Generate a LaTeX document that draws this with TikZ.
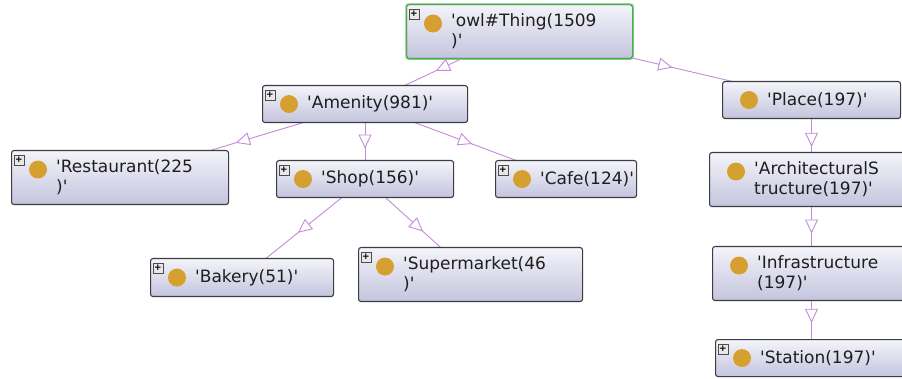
\documentclass[tikz,border=0pt]{standalone}
\usepackage{fontspec}
\setmainfont{DejaVu Sans}
\newfontfamily\lblfamily{DejaVu Sans}
\usetikzlibrary{arrows.meta,decorations.markings,calc}
\pgfdeclarelayer{background}
\pgfsetlayers{background,main}
\definecolor{boxtop}{HTML}{F4F4FA}
\definecolor{boxbot}{HTML}{C4C4DE}
\definecolor{boxborder}{HTML}{3C3C44}
\definecolor{thinggreen}{HTML}{6CD86C}
\definecolor{dotgold}{HTML}{D6A030}
\definecolor{edgecol}{HTML}{C58ADB}
\definecolor{textcol}{HTML}{1E1E1E}
\newcommand{\q}{\textquotesingle}
\newcommand{\owlcls}[7]{%
  \node[clsbox, minimum width=#4pt, minimum height=#5pt] (#1) at (#2pt,-#3pt) {};
  \node[golddot] (#1-dot) at ([xshift=27pt,yshift=#7pt]#1.west) {};
  \node[lbl] (#1-lbl) at ([xshift=45pt]#1.west) {#6};
}
\newcommand{\owlplus}[1]{%
  \node[plusicon] (#1-plus) at ([xshift=8pt,yshift=-10pt]#1.north west) {+};
}
\tikzset{
  clsbox/.style={draw=boxborder, line width=1.1pt, rounded corners=2.5pt,
    top color=boxtop, bottom color=boxbot, inner sep=0pt, anchor=north west},
  golddot/.style={circle, fill=dotgold, minimum size=18pt, inner sep=0pt},
  lbl/.style={font=\lblfamily\fontsize{17}{20}\selectfont, text=textcol,
    align=left, inner sep=0pt, anchor=west},
  plusicon/.style={draw=gray!60!black, fill=gray!18, minimum width=10pt,
    minimum height=10pt, inner sep=0pt, line width=0.6pt,
    font=\lblfamily\bfseries\fontsize{9}{9}\selectfont},
  isa/.style={draw=edgecol, line width=0.9pt, postaction={decorate},
    decoration={markings, mark=at position 0.5 with
      {\pgftransformxshift{7pt}\arrow{Triangle[length=14pt,width=13pt,fill=white]}}}}
}
\begin{document}
\begin{tikzpicture}
\useasboundingbox (0,0) rectangle (902pt,-379pt);
\clip (0,0) rectangle (902pt,-379pt);

\owlcls{thing}{406}{4}{226}{54}{\q owl\#Thing(1509\\)\q}{8}
\draw[thinggreen, line width=1.4pt, rounded corners=2.5pt] (thing.north west) rectangle (thing.south east);
\owlplus{thing}

\owlcls{amenity}{262}{85}{205}{37}{\q Amenity(981)\q}{0}
\owlplus{amenity}
\owlcls{place}{722}{81}{178}{37}{\q Place(197)\q}{0}

\owlcls{restaurant}{11}{150}{217}{54}{\q Restaurant(225\\)\q}{8}
\owlplus{restaurant}
\owlcls{shop}{276}{160}{177}{37}{\q Shop(156)\q}{0}
\owlplus{shop}
\owlcls{cafe}{495}{160}{141}{37}{\q Cafe(124)\q}{0}
\owlplus{cafe}
\owlcls{bakery}{150}{258}{183}{38}{\q Bakery(51)\q}{0}
\owlplus{bakery}
\owlcls{supermarket}{358}{247}{224}{54}{\q Supermarket(46\\)\q}{8}
\owlplus{supermarket}

\owlcls{arch}{709}{152}{204}{54}{\q ArchitecturalS\\tructure(197)\q}{8}
\owlcls{infra}{712}{246}{198}{54}{\q Infrastructure\\(197)\q}{8}
\owlcls{station}{715}{339}{192}{37}{\q Station(197)\q}{0}
\owlplus{station}

\begin{pgfonlayer}{background}
\fill[white] (0,0) rectangle (902pt,-379pt);
\draw[isa] (thing.center) -- (amenity.center);
\draw[isa] (thing.center) -- (place.center);
\draw[isa] (amenity.center) -- (restaurant.center);
\draw[isa] (amenity.center) -- (shop.center);
\draw[isa] (amenity.center) -- (cafe.center);
\draw[isa] (shop.center) -- (bakery.center);
\draw[isa] (shop.center) -- (supermarket.center);
\draw[isa] (place.center) -- (arch.center);
\draw[isa] (arch.center) -- (infra.center);
\draw[isa] (infra.center) -- (station.center);
\end{pgfonlayer}
\end{tikzpicture}
\end{document}
